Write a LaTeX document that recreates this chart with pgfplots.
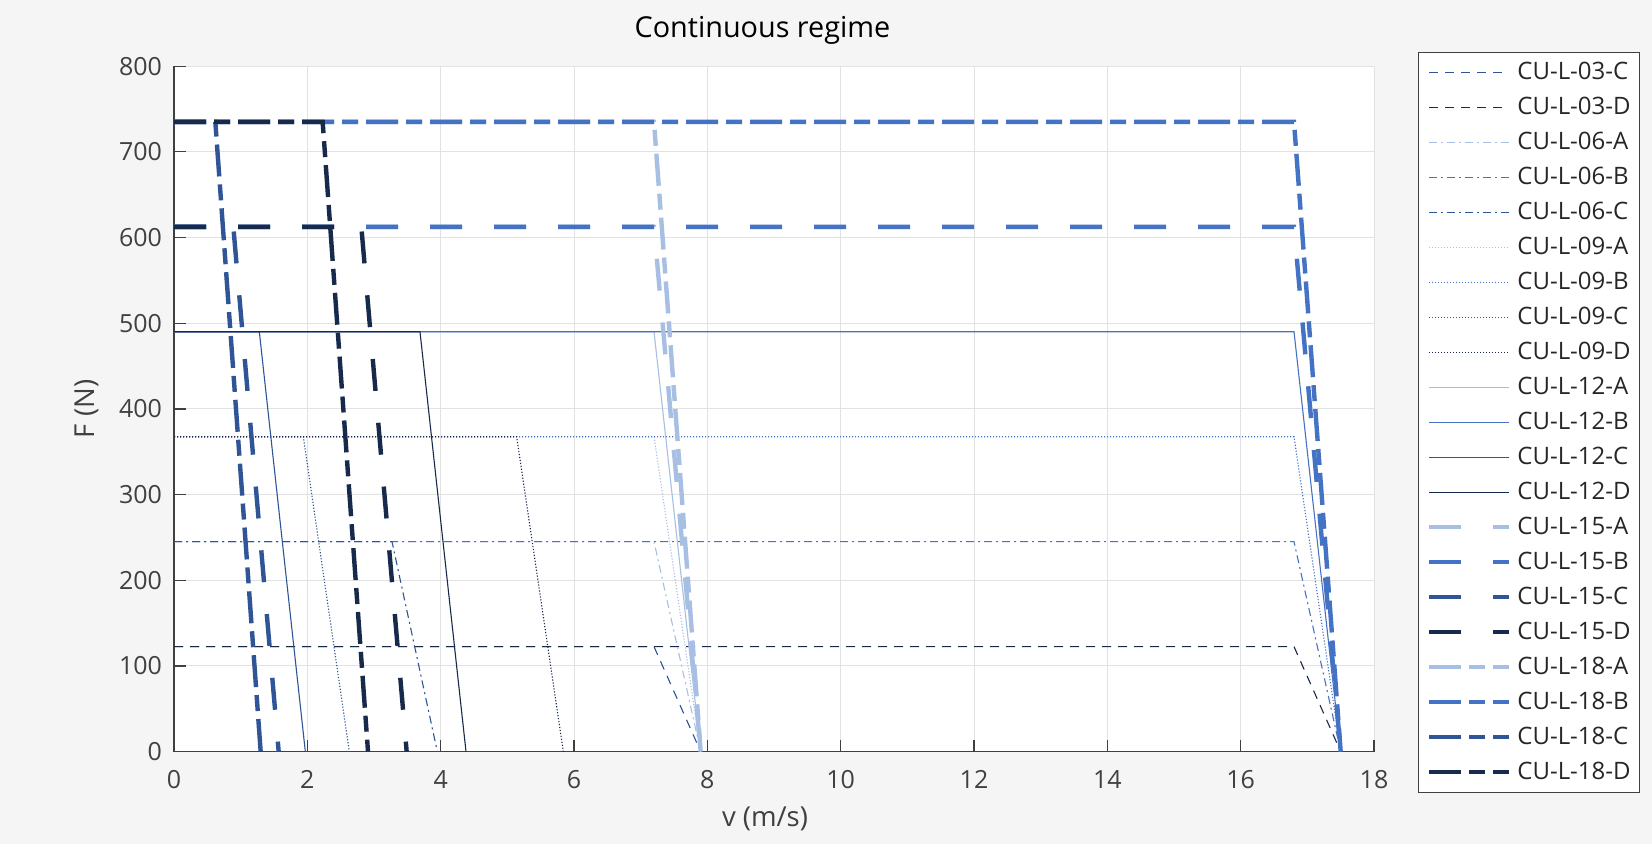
\documentclass[border=0pt]{standalone}
\usepackage{fontspec}
\setmainfont{Open Sans}
\usepackage{pgfplots}
\pgfplotsset{compat=1.18}
\definecolor{cA}{RGB}{168,191,228}
\definecolor{cB}{RGB}{68,114,196}
\definecolor{cC}{RGB}{47,85,151}
\definecolor{cD}{RGB}{24,42,76}
\definecolor{bggray}{RGB}{245,245,245}
\definecolor{gridgray}{RGB}{226,226,226}
\definecolor{axisgray}{RGB}{64,64,64}
\definecolor{txtgray}{RGB}{64,64,64}
\definecolor{legtxt}{RGB}{38,38,38}
\tikzset{
 s03/.style={line width=0.55pt, dash pattern=on 4.5pt off 3.5pt},
 s06/.style={line width=0.55pt, dash pattern=on 4pt off 2pt on 1pt off 2pt},
 s09/.style={line width=0.55pt, dash pattern=on 0.6pt off 0.9pt},
 s12/.style={line width=0.55pt},
 s15/.style={line width=2.2pt, dash pattern=on 16pt off 16pt},
 s18/.style={line width=2.2pt, dash pattern=on 16pt off 4pt on 8pt off 4pt},
}
\begin{document}
\begin{tikzpicture}
\useasboundingbox (0,0) rectangle (826pt,422pt);
\fill[bggray] (0,0) rectangle (826pt,422pt);
\begin{axis}[
  at={(87pt,46.2pt)}, anchor=south west,
  scale only axis, width=600pt, height=342.7pt,
  xmin=0, xmax=18, ymin=0, ymax=800,
  xtick={0,2,...,18}, ytick={0,100,...,800},
  axis background/.style={fill=white},
  axis lines*=left,
  axis line style={draw=axisgray, line width=0.6pt},
  grid=major, major grid style={draw=gridgray, line width=0.5pt},
  tick align=inside, major tick length=6pt,
  tick style={draw=axisgray, line width=0.6pt},
  /pgf/number format/assume math mode=true,
  tick label style={font=\fontsize{12.5}{14}\selectfont, text=txtgray},
  xticklabel shift=5.8pt, yticklabel shift=2.5pt,
  title={Continuous regime},
  title style={at={(axis description cs:0.4904,1.0247)}, anchor=base, font=\fontsize{14.4}{16}\selectfont, text=black},
  xlabel={v (m/s)}, ylabel={F (N)},
  xlabel style={at={(axis description cs:0.4925,-0.098)}, anchor=center, font=\fontsize{13.75}{16}\selectfont, text=txtgray},
  ylabel style={at={(axis description cs:-0.0725,0.5)}, anchor=center, rotate=0, font=\fontsize{13.75}{16}\selectfont, text=txtgray},
  legend cell align=left,
  legend image code/.code={\draw[#1] (0pt,0pt) -- (40pt,0pt); \path (43pt,0pt);},
  legend style={at={(axis description cs:1.0364,1.0211)}, anchor=north west,
    draw=axisgray, line width=0.5pt, fill=white, inner xsep=4.4pt, inner ysep=5.5pt,
    row sep=8.5pt, column sep=0pt,
    font=\fontsize{12}{14}\selectfont, text=legtxt,
    nodes={inner sep=0pt, text height=8pt, text depth=1pt}},
  every axis plot/.append style={no markers},
]
% 03
\addplot[cC, s03] coordinates {(0,122.5) (7.2,122.5) (7.9,0)};
\addlegendentry{CU-L-03-C}
\addplot[cD, s03] coordinates {(0,122.5) (16.8,122.5) (17.5,0)};
\addlegendentry{CU-L-03-D}
% 06
\addplot[cA, s06] coordinates {(0,245) (7.2,245) (7.9,0)};
\addlegendentry{CU-L-06-A}
\addplot[cB, s06] coordinates {(0,245) (16.8,245) (17.5,0)};
\addlegendentry{CU-L-06-B}
\addplot[cC, s06] coordinates {(0,245) (3.27,245) (3.95,0)};
\addlegendentry{CU-L-06-C}
% 09
\addplot[cA, s09] coordinates {(0,367.5) (7.2,367.5) (7.9,0)};
\addlegendentry{CU-L-09-A}
\addplot[cB, s09] coordinates {(0,367.5) (16.8,367.5) (17.5,0)};
\addlegendentry{CU-L-09-B}
\addplot[cC, s09] coordinates {(0,367.5) (1.94,367.5) (2.63,0)};
\addlegendentry{CU-L-09-C}
\addplot[cD, s09] coordinates {(0,367.5) (5.14,367.5) (5.84,0)};
\addlegendentry{CU-L-09-D}
% 12
\addplot[cA, s12] coordinates {(0,490) (7.2,490) (7.9,0)};
\addlegendentry{CU-L-12-A}
\addplot[cB, s12] coordinates {(0,490) (16.8,490) (17.5,0)};
\addlegendentry{CU-L-12-B}
\addplot[cC, s12] coordinates {(0,490) (1.28,490) (1.97,0)};
\addlegendentry{CU-L-12-C}
\addplot[cD, s12] coordinates {(0,490) (3.69,490) (4.38,0)};
\addlegendentry{CU-L-12-D}
% 15
\addplot[cA, s15] coordinates {(0,612.5) (7.2,612.5) (7.9,0)};
\addlegendentry{CU-L-15-A}
\addplot[cB, s15] coordinates {(0,612.5) (16.8,612.5) (17.5,0)};
\addlegendentry{CU-L-15-B}
\addplot[cC, s15] coordinates {(0,612.5) (0.89,612.5) (1.57,0)};
\addlegendentry{CU-L-15-C}
\addplot[cD, s15] coordinates {(0,612.5) (2.81,612.5) (3.49,0)};
\addlegendentry{CU-L-15-D}
% 18
\addplot[cA, s18] coordinates {(0,735) (7.2,735) (7.9,0)};
\addlegendentry{CU-L-18-A}
\addplot[cB, s18] coordinates {(0,735) (16.8,735) (17.5,0)};
\addlegendentry{CU-L-18-B}
\addplot[cC, s18] coordinates {(0,735) (0.62,735) (1.30,0)};
\addlegendentry{CU-L-18-C}
\addplot[cD, s18] coordinates {(0,735) (2.23,735) (2.91,0)};
\addlegendentry{CU-L-18-D}
\end{axis}
\end{tikzpicture}
\end{document}
